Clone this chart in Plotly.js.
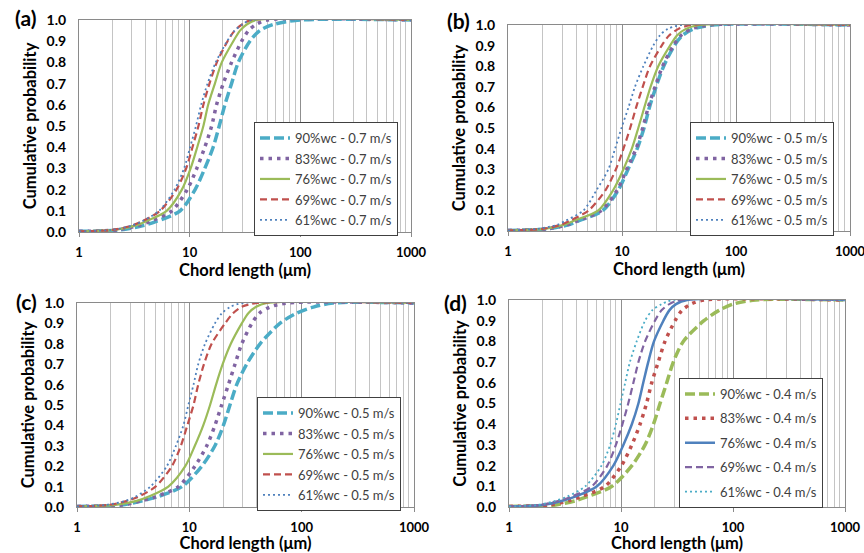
<!DOCTYPE html>
<html>
<head>
<meta charset="utf-8">
<script src="https://cdn.plot.ly/plotly-3.0.1.min.js"></script>
<style>html,body{margin:0;padding:0;background:#fff;}#chart{width:864px;height:553px;}</style>
</head>
<body>
<div id="chart"></div>
<script>
// Cumulative probability levels at which chord lengths were read
const levels = [0.003, 0.01, 0.03, 0.05, 0.1, 0.2, 0.3, 0.4, 0.5, 0.6, 0.7, 0.8, 0.9, 0.95, 0.98, 1.0, 1.0];

// Chord length (um) at each level, panel (a) 0.7 m/s
const a90 = [1, 2.4, 3.8, 5.0, 8.2, 11.2, 13.7, 16.3, 18.5, 20.8, 23.9, 27.5, 35, 43, 58, 100, 1000];
const a83 = [1, 2.2, 3.4, 4.4, 6.9, 9.5, 11.6, 13.7, 15.8, 17.5, 20.1, 23.9, 29.5, 34, 40, 50, 1000];
const a76 = [1, 2.1, 3.2, 4.0, 6.2, 8.5, 10.2, 11.7, 13.3, 14.7, 16.9, 19.5, 24.8, 28.5, 33, 40, 1000];
const a69 = [1, 2.0, 3.0, 3.7, 5.4, 7.6, 9.3, 10.6, 12.0, 13.3, 15.1, 17.6, 22.0, 25.5, 30, 36, 1000];
const a61 = [1, 2.0, 3.0, 3.7, 5.3, 7.3, 8.9, 10.1, 11.4, 12.7, 14.5, 17.2, 21.8, 25.5, 30, 36, 1000];

// panel (b) 0.5 m/s
const b90 = [1, 2.2, 3.4, 4.2, 6.8, 9.3, 11.3, 13.6, 15.6, 17.4, 19.9, 23.2, 28.8, 34, 42, 62, 1000];
const b83 = [1, 2.2, 3.3, 4.1, 6.6, 9.1, 11.0, 13.3, 15.2, 17.0, 19.5, 22.7, 28.2, 33, 40, 58, 1000];
const b76 = [1, 2.1, 3.1, 3.8, 6.2, 8.4, 10.3, 12.2, 13.9, 15.7, 17.8, 20.8, 26.4, 30.5, 36, 48, 1000];
const b69 = [1, 2.0, 2.9, 3.5, 5.1, 7.2, 8.85, 10.3, 11.8, 13.3, 15.2, 17.6, 22.3, 26, 31, 40, 1000];
const b61 = [1, 1.8, 2.7, 3.2, 4.6, 6.0, 7.6, 8.7, 9.9, 11.4, 13.0, 15.4, 18.8, 21.5, 25, 33, 1000];

// panel (c) 0.5 m/s
const c90 = [1, 2.5, 3.8, 5.2, 8.6, 12.9, 16.9, 20.1, 23.0, 26.4, 32.4, 42.6, 64, 90, 127, 190, 1000];
const c83 = [1, 2.5, 3.7, 5.0, 8.0, 11.2, 14.3, 16.9, 19.4, 22.3, 25.5, 29.3, 36, 42, 52, 75, 1000];
const c76 = [1, 2.2, 3.4, 4.3, 6.5, 9.2, 11.2, 13.3, 15.3, 17.3, 19.8, 23.4, 29.3, 33.5, 39, 49, 1000];
const c69 = [1, 1.9, 2.8, 3.5, 5.0, 7.0, 8.4, 9.6, 10.9, 12.0, 13.5, 15.8, 20.8, 24.5, 29, 40, 1000];
const c61 = [1, 1.8, 2.7, 3.3, 4.5, 6.3, 7.6, 8.85, 9.8, 10.9, 12.0, 13.8, 16.9, 19.5, 23, 30, 1000];

// panel (d) 0.4 m/s
const d90 = [1, 2.6, 3.9, 5.0, 8.3, 12.5, 16.4, 19.5, 22.3, 25.6, 29.3, 36, 55, 75, 100, 160, 1000];
const d83 = [1, 2.3, 3.4, 4.4, 7.2, 10.1, 12.5, 14.8, 16.9, 18.8, 21.5, 24.7, 30.4, 35, 42, 55, 1000];
const d76 = [1, 2.0, 3.0, 3.9, 6.1, 8.55, 10.5, 12.5, 14.3, 15.8, 17.5, 19.7, 23.9, 27, 31, 39, 1000];
const d69 = [1, 1.9, 2.8, 3.6, 5.5, 7.55, 9.0, 10.3, 11.6, 12.9, 14.3, 16.4, 20.1, 23, 27, 34, 1000];
const d61 = [1, 1.8, 2.6, 3.3, 4.8, 6.7, 8.0, 9.0, 9.9, 10.9, 12.0, 13.8, 16.4, 19, 23, 29, 1000];

const wcLabels = ['90%wc', '83%wc', '76%wc', '69%wc', '61%wc'];
const speeds = ['0.7 m/s', '0.5 m/s', '0.5 m/s', '0.4 m/s'];
const panelLabels = ['(a)', '(b)', '(c)', '(d)'];
const xTickVals = [1, 10, 100, 1000];
const xMinorVals = [2, 3, 4, 5, 6, 7, 8, 9, 20, 30, 40, 50, 60, 70, 80, 90, 200, 300, 400, 500, 600, 700, 800, 900];

const panels = [[a90, a83, a76, a69, a61], [b90, b83, b76, b69, b61], [c90, c83, c76, c69, c61], [d90, d83, d76, d69, d61]];

const C = {cyan: '#4BACC6', purple: '#8064A2', green: '#9BBB59', red: '#C0504D', blue: '#4F81BD'};
const styleABC = [
  {color: C.cyan, width: 3.5, dash: '10px,4px'},
  {color: C.purple, width: 3.5, dash: '3.5px,5px'},
  {color: C.green, width: 2.2, dash: 'solid'},
  {color: C.red, width: 2.2, dash: '7px,4px'},
  {color: C.blue, width: 1.8, dash: '2px,3px'}
];
const styleD = [
  {color: C.green, width: 3.5, dash: '10px,4px'},
  {color: C.red, width: 3.5, dash: '3.5px,5px'},
  {color: C.blue, width: 2.5, dash: 'solid'},
  {color: C.purple, width: 2.2, dash: '7px,4px'},
  {color: C.cyan, width: 1.8, dash: '2px,3px'}
];

const W = 864, H = 553;
// plot areas in px: [left, right, top, bottom]
const boxes = [[79, 411, 20, 232], [508, 850, 25, 231], [77, 414, 303, 507], [509, 845, 300, 507]];
const legendPos = [[254, 122], [690, 122], [257, 397], [679, 378]];
const labelPos = [[25, 17], [458, 20], [26, 301], [455, 302]];

const FONT = 'Lato, "Open Sans", Arial, sans-serif';
const traces = [];
const layout = {
  width: W, height: H,
  margin: {l: 0, r: 0, t: 0, b: 0},
  paper_bgcolor: '#fff', plot_bgcolor: '#fff',
  font: {family: FONT, color: '#000'},
  annotations: []
};

panels.forEach((series, p) => {
  const sfx = p === 0 ? '' : String(p + 1);
  const styles = p === 3 ? styleD : styleABC;
  const legName = 'legend' + sfx;
  series.forEach((xs, i) => {
    traces.push({
      type: 'scatter', mode: 'lines',
      x: xs, y: levels,
      xaxis: 'x' + sfx, yaxis: 'y' + sfx,
      name: wcLabels[i] + ' - ' + speeds[p],
      legend: legName,
      legendgroup: 'g' + p + '_' + i,
      line: {color: styles[i].color, width: styles[i].width, dash: styles[i].dash, shape: 'spline', smoothing: 0.8},
      hoverinfo: 'skip'
    });
  });
  const [l, r, t, b] = boxes[p];
  layout['xaxis' + sfx] = {
    type: 'log', domain: [l / W, r / W], anchor: 'y' + sfx,
    range: [0, 3], tickmode: 'array', tickvals: xTickVals, ticktext: xTickVals.map(String),
    showgrid: true, gridcolor: '#8f8f8f', gridwidth: 1,
    minor: {tickmode: 'array', tickvals: xMinorVals, showgrid: true, gridcolor: '#c4c4c4', gridwidth: 1, ticks: ''},
    showline: true, linecolor: '#8a8a8a', linewidth: 1, mirror: true,
    ticks: 'outside', ticklen: 4, tickcolor: '#8a8a8a',
    ticklabelstandoff: 4, ticklabeloverflow: 'allow',
    tickfont: {family: FONT, size: 13, weight: 'bold', color: '#000'},
    title: {text: 'Chord length (μm)', font: {family: FONT, size: 16.5, weight: 'bold', color: '#000'}, standoff: 5},
    zeroline: false, fixedrange: true
  };
  layout['yaxis' + sfx] = {
    domain: [1 - b / H, 1 - t / H], anchor: 'x' + sfx,
    range: [0, 1.0], tickmode: 'linear', tick0: 0, dtick: 0.1, tickformat: '.1f',
    showgrid: false, zeroline: false,
    showline: true, linecolor: '#8a8a8a', linewidth: 1, mirror: true,
    ticks: '', ticklabelstandoff: 9,
    tickfont: {family: FONT, size: 14, weight: 'bold', color: '#000'},
    title: {text: 'Cumulative probability', font: {family: FONT, size: 16.5, weight: 'bold', color: '#000'}, standoff: 5},
    fixedrange: true
  };
  layout[legName] = {
    x: legendPos[p][0] / W, y: 1 - legendPos[p][1] / H, xanchor: 'left', yanchor: 'top',
    bgcolor: '#fff', bordercolor: '#404040', borderwidth: 1,
    font: {family: FONT, size: 13, color: '#404040'},
    traceorder: 'grouped', tracegroupgap: p === 3 ? 4.5 : 0.6,
    itemclick: false, itemdoubleclick: false
  };
  layout.annotations.push({
    text: panelLabels[p], xref: 'paper', yref: 'paper',
    x: labelPos[p][0] / W, y: 1 - labelPos[p][1] / H, xanchor: 'center', yanchor: 'middle',
    showarrow: false, font: {family: FONT, size: 21, weight: 'bold', color: '#000'}
  });
});

Plotly.newPlot('chart', traces, layout, {staticPlot: true, displayModeBar: false});
</script>
</body>
</html>
